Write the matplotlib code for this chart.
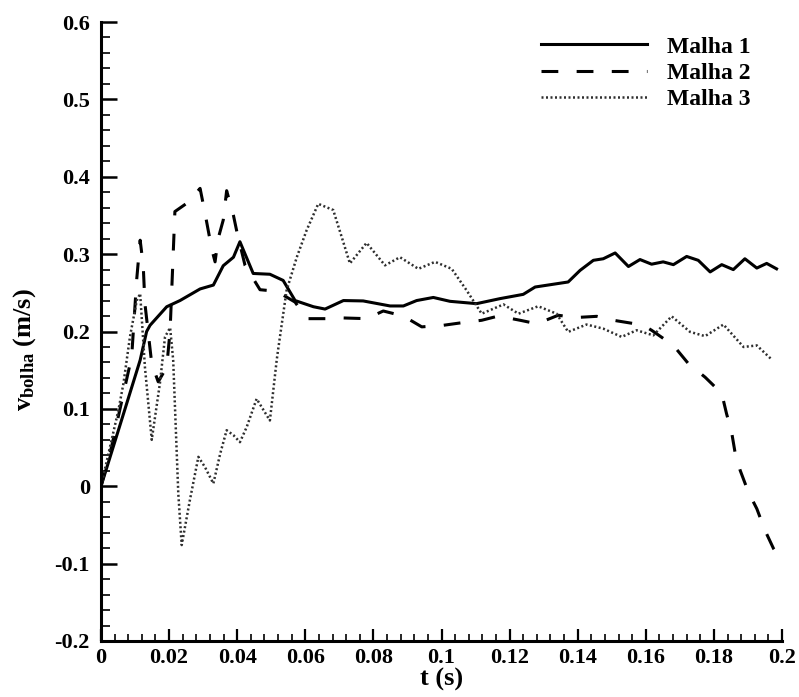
import matplotlib
matplotlib.use("Agg")
import matplotlib.pyplot as plt
from matplotlib.ticker import MultipleLocator, FuncFormatter

# ---- data ----
t1 = [0, 0.006, 0.0115, 0.0134, 0.0144, 0.0193, 0.0232, 0.0291, 0.033, 0.0359, 0.0389, 0.0408,
      0.0447, 0.0496, 0.0535, 0.057, 0.0624, 0.0658, 0.0712, 0.077, 0.0849, 0.0888, 0.0927,
      0.0976, 0.1025, 0.1103, 0.1172, 0.124, 0.1275, 0.1372, 0.1407, 0.1446, 0.1475, 0.151,
      0.1549, 0.1583, 0.1617, 0.1651, 0.1681, 0.172, 0.1754, 0.1789, 0.1823, 0.1857, 0.1891,
      0.1926, 0.1955, 0.1984]
v1 = [0, 0.085, 0.163, 0.200, 0.208, 0.232, 0.240, 0.255, 0.260, 0.285, 0.296, 0.316,
      0.275, 0.274, 0.266, 0.240, 0.232, 0.229, 0.240, 0.2395, 0.233, 0.233, 0.240,
      0.244, 0.239, 0.236, 0.2425, 0.248, 0.2575, 0.264, 0.279, 0.292, 0.294, 0.3015,
      0.284, 0.293, 0.287, 0.290, 0.2864, 0.297, 0.292, 0.277, 0.2864, 0.280, 0.294,
      0.282, 0.288, 0.281]

t2 = [0, 0.0031, 0.0066, 0.009, 0.0105, 0.0115, 0.0124, 0.0129, 0.0149, 0.0168, 0.0193,
      0.0203, 0.0212, 0.0217, 0.0256, 0.0291, 0.0305, 0.0325, 0.0335, 0.0344, 0.0359,
      0.0369, 0.0389, 0.0399, 0.0423, 0.0467, 0.0516, 0.057, 0.0604, 0.0663, 0.0712,
      0.078, 0.0829, 0.0888, 0.0942, 0.1005, 0.1054, 0.1118, 0.1167, 0.1231, 0.128,
      0.1343, 0.1392, 0.1456, 0.1505, 0.1568, 0.1593, 0.1617, 0.1681, 0.1725, 0.1774,
      0.1823, 0.1837, 0.1852, 0.1862, 0.1877, 0.1901, 0.1926, 0.195, 0.1975, 0.1984]
v2 = [0, 0.051, 0.12, 0.167, 0.268, 0.318, 0.2855, 0.236, 0.1585, 0.135, 0.154,
      0.2016, 0.300, 0.355, 0.367, 0.385, 0.354, 0.307, 0.290, 0.320, 0.344,
      0.382, 0.350, 0.329, 0.2855, 0.254, 0.252, 0.238, 0.2166, 0.2166, 0.2175,
      0.2166, 0.2265, 0.220, 0.206, 0.208, 0.211, 0.2145, 0.220, 0.2145, 0.210,
      0.221, 0.218, 0.2196, 0.2145, 0.210, 0.208, 0.2016, 0.182, 0.1585, 0.141,
      0.120, 0.094, 0.070, 0.044, 0.0207, -0.0073, -0.029, -0.057, -0.0805, -0.086]

t3 = [0, 0.0051, 0.0066, 0.0085, 0.0105, 0.0115, 0.0129, 0.0149, 0.0173, 0.0188, 0.0203,
      0.0212, 0.0227, 0.0237, 0.0261, 0.0286, 0.0305, 0.033, 0.035, 0.0369, 0.0389,
      0.0408, 0.0428, 0.0457, 0.0496, 0.0516, 0.052, 0.0545, 0.0575, 0.0604, 0.0638,
      0.0682, 0.0707, 0.0731, 0.078, 0.0834, 0.0878, 0.0932, 0.0981, 0.103, 0.1074,
      0.1118, 0.1182, 0.1226, 0.1284, 0.1338, 0.1372, 0.1426, 0.1475, 0.1529, 0.1573,
      0.1622, 0.1676, 0.173, 0.1774, 0.1828, 0.1887, 0.1926, 0.197]
v3 = [0, 0.098, 0.133, 0.193, 0.240, 0.249, 0.154, 0.060, 0.133, 0.193, 0.205,
      0.163, -0.0095, -0.076, -0.018, 0.038, 0.025, 0.0035, 0.042, 0.0724, 0.066,
      0.057, 0.0766, 0.113, 0.085, 0.163, 0.176, 0.253, 0.296, 0.331, 0.365,
      0.357, 0.322, 0.288, 0.3145, 0.2855, 0.296, 0.281, 0.290, 0.281, 0.253,
      0.223, 0.235, 0.223, 0.2326, 0.223, 0.1995, 0.209, 0.2037, 0.193, 0.2016,
      0.195, 0.2196, 0.1995, 0.194, 0.209, 0.180, 0.182, 0.1637]

labels = ["Malha 1", "Malha 2", "Malha 3"]
xticks = [0, 0.02, 0.04, 0.06, 0.08, 0.1, 0.12, 0.14, 0.16, 0.18, 0.2]
yticks = [-0.2, -0.1, 0, 0.1, 0.2, 0.3, 0.4, 0.5, 0.6]

# ---- style ----
plt.rcParams['font.family'] = ['Liberation Serif', 'DejaVu Serif']
plt.rcParams['font.weight'] = 'bold'
plt.rcParams['mathtext.fontset'] = 'custom'
plt.rcParams['mathtext.rm'] = 'Liberation Serif:bold'
plt.rcParams['mathtext.it'] = 'Liberation Serif:bold'
plt.rcParams['mathtext.bf'] = 'Liberation Serif:bold'

fig = plt.figure(figsize=(7.99, 6.97), dpi=100)
ax = fig.add_axes([101/799, 1-641/697, (782-101)/799, (641-22)/697])

ax.plot(t1, v1, color='black', lw=2.2, label=labels[0], solid_joinstyle='round')
ax.plot(t2, v2, color='black', lw=2.2, ls=(0, (5.5, 6)), label=labels[1])
ax.plot(t3, v3, color='#2e2e2e', lw=1.8, ls=(0, (0.8, 1.0)), label=labels[2])

ax.set_xlim(0, 0.2)
ax.set_ylim(-0.2, 0.6)
ax.set_xticks(xticks)
ax.set_yticks(yticks)
fmt = FuncFormatter(lambda v, p: ('%g' % round(v, 4)))
ax.xaxis.set_major_formatter(fmt)
ax.yaxis.set_major_formatter(fmt)
ax.xaxis.set_minor_locator(MultipleLocator(0.004))
ax.yaxis.set_minor_locator(MultipleLocator(0.02))

for s in ['top', 'right']:
    ax.spines[s].set_visible(False)
for s in ['left', 'bottom']:
    ax.spines[s].set_linewidth(2.2)

ax.tick_params(axis='x', which='major', direction='in', length=9, width=1.6, pad=5,
               labelsize=16)
ax.tick_params(axis='x', which='minor', direction='in', length=5, width=1.2)
ax.tick_params(axis='y', which='major', direction='in', length=11.5, width=1.8, pad=8,
               labelsize=16)
ax.tick_params(axis='y', which='minor', direction='in', length=6.5, width=1.2)
for lab in ax.get_xticklabels() + ax.get_yticklabels():
    lab.set_fontweight('bold')

ax.set_xlabel('t (s)', fontsize=19, fontweight='bold')
ax.xaxis.set_label_coords(0.5, (641-668)/619)
ax.set_ylabel(r'$\mathrm{v}_{\mathrm{bolha}}$ (m/s)', fontsize=19, fontweight='bold')
ax.yaxis.set_label_coords((38-101)/681, 0.47)

leg = ax.legend(loc='upper left', bbox_to_anchor=(541/799, 1-36/697),
                bbox_transform=fig.transFigure, frameon=False, fontsize=17,
                handlelength=4.5, handletextpad=0.85, labelspacing=0.2,
                borderpad=0, borderaxespad=0)
for txt in leg.get_texts():
    txt.set_fontweight('bold')

fig.savefig('out.png', dpi=100)
